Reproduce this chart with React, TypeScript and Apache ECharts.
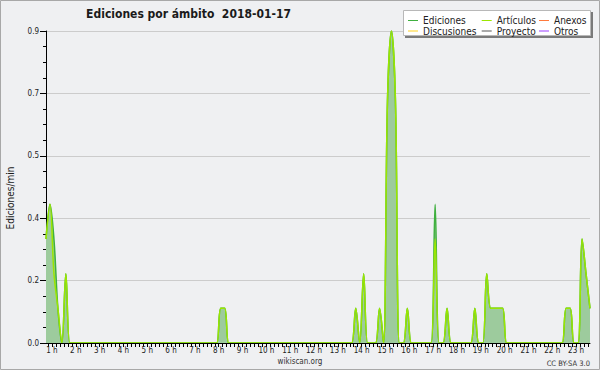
import React, { useEffect, useRef } from "react";
import * as echarts from "echarts";

// ---- data (10-minute buckets, edits per minute) ----
const TITLE = "Ediciones por ámbito  2018-01-17";
const START_HOUR = 0.75; // centre of first bucket (0:45)
const BUCKET_HOURS = 1 / 6;
const hourLabels = [1, 2, 3, 4, 5, 6, 7, 8, 9, 10, 11, 12, 13, 14, 15, 16, 17, 18, 19, 20, 21, 22, 23];
const seriesNames = ["Ediciones", "Artículos", "Anexos", "Discusiones", "Proyecto", "Otros"];
const legendColumns = [
  ["Ediciones", "Discusiones"],
  ["Artículos", "Proyecto"],
  ["Anexos", "Otros"],
];

// one row per hour, starting 0:45
const ediciones = [
  0.3, 0.4, 0.3, 0.1, 0, 0.2,
  0, 0, 0, 0, 0, 0,
  0, 0, 0, 0, 0, 0,
  0, 0, 0, 0, 0, 0,
  0, 0, 0, 0, 0, 0,
  0, 0, 0, 0, 0, 0,
  0, 0, 0, 0, 0, 0,
  0, 0, 0.1, 0.1, 0, 0,
  0, 0, 0, 0, 0, 0,
  0, 0, 0, 0, 0, 0,
  0, 0, 0, 0, 0, 0,
  0, 0, 0, 0, 0, 0,
  0, 0, 0, 0, 0, 0,
  0.1, 0, 0.2, 0, 0, 0,
  0.1, 0, 0.7, 0.9, 0.7, 0,
  0, 0.1, 0, 0, 0, 0,
  0, 0, 0.4, 0, 0, 0.1,
  0, 0, 0, 0, 0, 0,
  0.1, 0, 0, 0.2, 0.1, 0.1,
  0.1, 0.1, 0, 0, 0, 0,
  0, 0, 0, 0, 0, 0,
  0, 0, 0, 0, 0, 0.1,
  0.1, 0, 0, 0.3, 0.2, 0.1,
];

const articulos = [
  0.3, 0.4, 0.2, 0.1, 0, 0.2,
  0, 0, 0, 0, 0, 0,
  0, 0, 0, 0, 0, 0,
  0, 0, 0, 0, 0, 0,
  0, 0, 0, 0, 0, 0,
  0, 0, 0, 0, 0, 0,
  0, 0, 0, 0, 0, 0,
  0, 0, 0.1, 0.1, 0, 0,
  0, 0, 0, 0, 0, 0,
  0, 0, 0, 0, 0, 0,
  0, 0, 0, 0, 0, 0,
  0, 0, 0, 0, 0, 0,
  0, 0, 0, 0, 0, 0,
  0.1, 0, 0.2, 0, 0, 0,
  0.1, 0, 0.7, 0.9, 0.7, 0,
  0, 0.1, 0, 0, 0, 0,
  0, 0, 0.3, 0, 0, 0.1,
  0, 0, 0, 0, 0, 0,
  0.1, 0, 0, 0.2, 0.1, 0.1,
  0.1, 0.1, 0, 0, 0, 0,
  0, 0, 0, 0, 0, 0,
  0, 0, 0, 0, 0, 0.1,
  0.1, 0, 0, 0.3, 0.2, 0.1,
];

const anexos: number[] = [];
const discusiones: number[] = [];
const proyecto: number[] = [];
const otros: number[] = [];

const COLORS: Record<string, string> = {
  Ediciones: "#3fb03f",
  Artículos: "#9be600",
  Anexos: "#ff7a3d",
  Discusiones: "#ffd11f",
  Proyecto: "#555555",
  Otros: "#9a3cff",
};

const FONT = "'DejaVu Sans Condensed', 'DejaVu Sans', sans-serif";

function toPoints(values: number[]) {
  return values.map((v, i) => [START_HOUR + i * BUCKET_HOURS, v]);
}

export default function App() {
  const ref = useRef<HTMLDivElement>(null);

  useEffect(() => {
    if (!ref.current) return;
    const chart = echarts.init(ref.current, undefined, { renderer: "svg" });

    const tickValues: number[] = [];
    for (let m = 50; m <= 1410; m += 10) tickValues.push(m / 60);

    const dataBySeries: Record<string, number[]> = {
      Ediciones: ediciones,
      Artículos: articulos,
      Anexos: anexos,
      Discusiones: discusiones,
      Proyecto: proyecto,
      Otros: otros,
    };

    const legendLefts = [408, 481.7, 539];

    const option: any = {
      animation: false,
      backgroundColor: "#eff0f2",
      grid: { left: 46, right: 10, top: 31, bottom: 27, containLabel: false },
      xAxis: {
        type: "value",
        min: START_HOUR,
        max: START_HOUR + (ediciones.length - 1) * BUCKET_HOURS,
        z: 3,
        axisLine: { show: true, onZero: false, lineStyle: { color: "#000", width: 1 } },
        axisTick: { show: true, customValues: tickValues, length: 4, lineStyle: { color: "#000" } },
        axisLabel: {
          customValues: hourLabels,
          formatter: (v: number) => `${Math.round(v)} h`,
          fontSize: 8,
          color: "#222",
          margin: 3,
          fontFamily: FONT,
        },
        splitLine: { show: false },
      },
      yAxis: {
        type: "value",
        min: 0,
        max: 0.9,
        interval: 0.18,
        axisLine: { show: true, lineStyle: { color: "#000", width: 1 } },
        axisTick: { show: true, length: 6, lineStyle: { color: "#000" } },
        minorTick: { show: true, splitNumber: 4, length: 3, lineStyle: { color: "#000" } },
        axisLabel: {
          formatter: (v: number) => v.toFixed(1),
          fontSize: 8,
          margin: 7,
          color: "#222",
          fontFamily: FONT,
        },
        splitLine: { show: true, lineStyle: { color: "#cccccc", width: 1 } },
      },
      legend: legendColumns.map((names, c) => ({
        orient: "vertical",
        left: legendLefts[c],
        top: 15.5,
        padding: 0,
        itemGap: 0.5,
        itemWidth: 10,
        itemHeight: 1,
        icon: "rect",
        selectedMode: false,
        data: names,
        z: 5,
        textStyle: { fontSize: 10, lineHeight: 9, color: "#222", fontFamily: FONT },
      })),
      graphic: [
        {
          type: "rect",
          z: 3,
          shape: { x: 405, y: 12, width: 188, height: 26 },
          style: { fill: "#7a7a7a" },
          silent: true,
        },
        {
          type: "rect",
          z: 3,
          shape: { x: 403.5, y: 10.5, width: 187, height: 25 },
          style: { fill: "#ffffff", stroke: "#b8b8b8", lineWidth: 1 },
          silent: true,
        },
        {
          type: "text",
          z: 3,
          x: 188.5,
          y: 13.5,
          style: {
            text: TITLE,
            fontSize: 12,
            fontWeight: "bold",
            fontFamily: FONT,
            fill: "#1a1a1a",
            align: "center",
            verticalAlign: "middle",
            textAlign: "center",
            textVerticalAlign: "middle",
          },
        },
        {
          type: "text",
          z: 3,
          x: 10,
          y: 198,
          rotation: Math.PI / 2,
          style: {
            text: "Ediciones/min",
            fontSize: 10,
            fontFamily: FONT,
            fill: "#1a1a1a",
            align: "center",
            verticalAlign: "middle",
            textAlign: "center",
            textVerticalAlign: "middle",
          },
        },
        {
          type: "text",
          z: 3,
          x: 300,
          y: 361,
          style: {
            text: "wikiscan.org",
            fontSize: 8,
            fontFamily: FONT,
            fill: "#333",
            align: "center",
            verticalAlign: "middle",
            textAlign: "center",
            textVerticalAlign: "middle",
          },
        },
        {
          type: "text",
          z: 3,
          x: 590,
          y: 363,
          style: {
            text: "CC BY-SA 3.0",
            fontSize: 7.5,
            fontFamily: FONT,
            fill: "#333",
            align: "right",
            verticalAlign: "middle",
            textAlign: "right",
            textVerticalAlign: "middle",
          },
        },
        {
          type: "rect",
          z: 10,
          shape: { x: 0.5, y: 0.5, width: 599, height: 369 },
          style: { fill: "none", stroke: "#a8a8a8", lineWidth: 1 },
          silent: true,
        },
      ],
      series: seriesNames.map((name) => {
        const s: any = {
          name,
          type: "line",
          data: toPoints(dataBySeries[name]),
          smooth: 0.35,
          symbol: "none",
          showSymbol: false,
          lineStyle: { color: COLORS[name], width: 1.5 },
          itemStyle: { color: COLORS[name] },
          z: 2,
        };
        if (name === "Ediciones") {
          s.areaStyle = { color: "#9dcb9d", opacity: 1 };
        }
        return s;
      }),
    };

    chart.setOption(option);
    return () => chart.dispose();
  }, []);

  return (
    <div
      ref={ref}
      style={{ position: "fixed", left: 0, top: 0, width: 600, height: 370 }}
    />
  );
}
